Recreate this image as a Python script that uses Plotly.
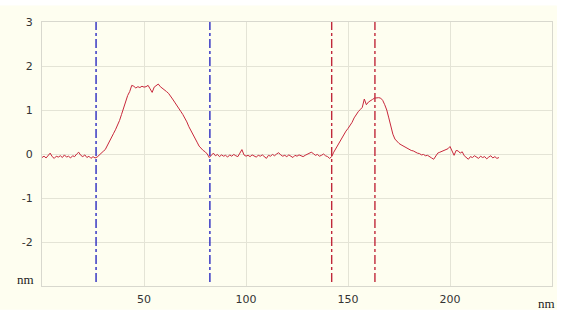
import plotly.graph_objects as go

# Profile sampled every 1 nm from 0 to 224 nm
x_start = 0
x_step = 1
height_nm = [
    -0.08, -0.05, -0.09, -0.03, 0.02, -0.06, -0.10, -0.05, -0.07, -0.04,
    -0.08, -0.02, -0.07, -0.05, -0.09, -0.04, -0.06, 0.00, 0.04, -0.03,
    -0.06, -0.02, -0.08, -0.05, -0.10, -0.06, -0.09, -0.07, -0.02, 0.02,
    0.06, 0.10, 0.20, 0.30, 0.38, 0.46, 0.55, 0.64, 0.76, 0.90,
    1.05, 1.20, 1.33, 1.42, 1.56, 1.54, 1.50, 1.53, 1.51, 1.54,
    1.52, 1.53, 1.56, 1.48, 1.40, 1.52, 1.56, 1.59, 1.53, 1.50,
    1.47, 1.42, 1.38, 1.30, 1.25, 1.18, 1.10, 1.04, 0.97, 0.90,
    0.82, 0.73, 0.62, 0.54, 0.44, 0.35, 0.27, 0.18, 0.12, 0.08,
    0.05, 0.00, -0.08, -0.02, 0.02, -0.04, -0.01, -0.06, -0.02, -0.05,
    -0.03, -0.07, -0.02, -0.05, -0.01, -0.04, -0.06, 0.02, 0.10, -0.02,
    -0.05, -0.03, -0.06, -0.02, -0.04, -0.07, -0.03, -0.05, -0.02, -0.06,
    -0.10, -0.03, -0.05, -0.01, -0.04, 0.00, 0.03, -0.02, -0.05, -0.03,
    -0.06, -0.02, -0.05, -0.08, -0.03, -0.05, -0.02, -0.04, -0.06, -0.03,
    -0.01, 0.02, 0.04, 0.01, -0.03, -0.01, -0.05, -0.03, 0.00, -0.04,
    -0.06, -0.10, -0.06, 0.04, 0.12, 0.20, 0.30, 0.38, 0.45, 0.52,
    0.58, 0.64, 0.72, 0.82, 0.90, 0.96, 1.01, 1.06, 1.25, 1.12,
    1.18, 1.22, 1.24, 1.27, 1.28, 1.28, 1.27, 1.22, 1.12, 1.00,
    0.82, 0.62, 0.45, 0.34, 0.28, 0.24, 0.21, 0.18, 0.16, 0.14,
    0.11, 0.08, 0.07, 0.04, 0.02, 0.01, -0.02, -0.01, -0.04, -0.03,
    -0.07, -0.09, -0.12, -0.04, 0.02, 0.04, 0.06, 0.08, 0.09, 0.12,
    0.17, 0.06, -0.03, 0.08, 0.07, 0.02, 0.05, -0.04, -0.09, -0.12,
    -0.06, -0.08, -0.04, -0.07, -0.10, -0.05, -0.08, -0.06, -0.11, -0.07,
    -0.04, -0.09, -0.06, -0.10, -0.08,
]
position_nm = [x_start + i * x_step for i in range(len(height_nm))]

# Cursor (marker) lines
cursor_x = [26.5, 82.3, 142.0, 163.2]
cursor_colors = ["#2B2BC0", "#2B2BC0", "#C0283A", "#C0283A"]

x_tick_vals = [50, 100, 150, 200]
x_tick_text = ["50", "100", "150", "200"]
y_tick_vals = [3, 2, 1, 0, -1, -2]
y_tick_text = ["3", "2", "1", "0", "-1", "-2"]
unit_label = "nm"

fig = go.Figure()
fig.add_trace(go.Scatter(
    x=position_nm, y=height_nm, mode="lines",
    line=dict(color="#C8283C", width=1.0),
    hoverinfo="skip", showlegend=False,
))

shapes = [
    dict(type="rect", xref="paper", yref="paper",
         x0=-0.0824, x1=1.0098, y0=-0.09, y1=1.0625,
         fillcolor="#FEFEF0", line=dict(width=0), layer="below"),
]
for cx, cc in zip(cursor_x, cursor_colors):
    shapes.append(dict(type="line", xref="x", yref="paper",
                       x0=cx, x1=cx, y0=0.015, y1=1,
                       line=dict(color=cc, width=1.4, dash="dashdot")))

fig.update_layout(
    width=569, height=318,
    margin=dict(l=42, r=17, t=22, b=24),
    paper_bgcolor="#FFFFFF",
    plot_bgcolor="#FEFEF0",
    shapes=shapes,
    font=dict(family="DejaVu Sans, Verdana, sans-serif", size=11, color="#333333"),
    xaxis=dict(range=[0, 250], tickvals=x_tick_vals, ticktext=x_tick_text,
               showgrid=True, gridcolor="#E4E4D6", gridwidth=1,
               zeroline=False, showline=True, linecolor="#D8D8CE", mirror=True,
               ticks="", ticklabelstandoff=3, fixedrange=True),
    yaxis=dict(range=[-3, 3], tickvals=y_tick_vals, ticktext=y_tick_text,
               showgrid=True, gridcolor="#E4E4D6", gridwidth=1,
               zeroline=False, showline=True, linecolor="#D8D8CE", mirror=True,
               ticks="", ticklabelstandoff=6, fixedrange=True),
    annotations=[
        dict(text=unit_label, xref="paper", yref="paper", x=-0.012, y=0.026,
             xanchor="right", yanchor="middle", showarrow=False,
             font=dict(family="Liberation Serif, Times New Roman, serif", size=13, color="#222222")),
        dict(text=unit_label, xref="paper", yref="paper", x=0.99, y=-0.03,
             xanchor="center", yanchor="top", showarrow=False,
             font=dict(family="Liberation Serif, Times New Roman, serif", size=13, color="#222222")),
    ],
)

fig.write_html(
    "out.html",
    config={"displayModeBar": False},
    post_script="document.body.style.margin='0';document.body.style.overflow='hidden';",
)
